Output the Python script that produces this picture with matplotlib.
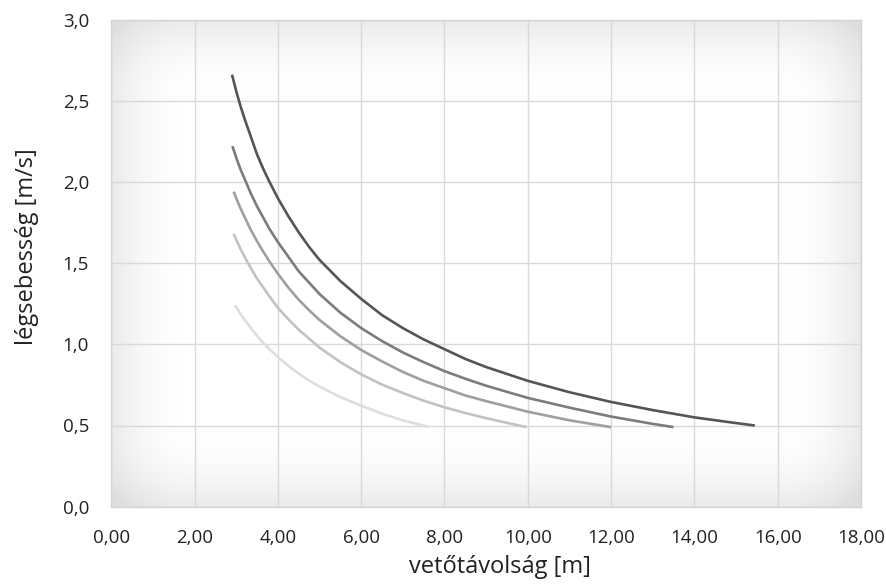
import numpy as np
import matplotlib
matplotlib.use("Agg")
import matplotlib.pyplot as plt
from matplotlib.ticker import FuncFormatter

plt.rcParams['font.family'] = ['Open Sans', 'DejaVu Sans']

# ---- data ----
x1 = [2.90, 3.00, 3.10, 3.20, 3.35, 3.50, 3.65, 3.80, 4.00, 4.25, 4.50, 4.75, 5.00, 5.50, 6.00, 6.50, 7.00, 7.50, 8.00, 8.50, 9.00, 10.0, 11.0, 12.0, 13.0, 14.0, 15.0, 15.45]
y1 = [2.66, 2.56, 2.47, 2.39, 2.28, 2.17, 2.08, 2.00, 1.90, 1.79, 1.69, 1.60, 1.52, 1.39, 1.28, 1.18, 1.10, 1.03, 0.97, 0.91, 0.86, 0.775, 0.705, 0.645, 0.595, 0.55, 0.515, 0.50]

x2 = [2.91, 3.00, 3.10, 3.20, 3.35, 3.50, 3.65, 3.80, 4.00, 4.25, 4.50, 4.75, 5.00, 5.50, 6.00, 6.50, 7.00, 7.50, 8.00, 8.50, 9.00, 10.0, 11.0, 12.0, 13.0, 13.5]
y2 = [2.22, 2.15, 2.08, 2.02, 1.93, 1.85, 1.78, 1.71, 1.63, 1.54, 1.45, 1.38, 1.31, 1.195, 1.10, 1.02, 0.95, 0.89, 0.835, 0.788, 0.745, 0.67, 0.61, 0.555, 0.51, 0.49]

x3 = [2.94, 3.00, 3.10, 3.20, 3.35, 3.50, 3.65, 3.80, 4.00, 4.25, 4.50, 4.75, 5.00, 5.50, 6.00, 6.50, 7.00, 7.50, 8.00, 8.50, 9.00, 10.0, 11.0, 12.0]
y3 = [1.94, 1.90, 1.84, 1.785, 1.705, 1.635, 1.57, 1.51, 1.435, 1.35, 1.275, 1.21, 1.15, 1.05, 0.965, 0.895, 0.83, 0.775, 0.73, 0.685, 0.65, 0.585, 0.532, 0.49]

x4 = [2.94, 3.00, 3.10, 3.20, 3.35, 3.50, 3.65, 3.80, 4.00, 4.25, 4.50, 4.75, 5.00, 5.50, 6.00, 6.50, 7.00, 7.50, 8.00, 8.50, 9.00, 9.97]
y4 = [1.68, 1.645, 1.59, 1.54, 1.47, 1.405, 1.35, 1.295, 1.225, 1.155, 1.09, 1.035, 0.98, 0.89, 0.815, 0.752, 0.70, 0.653, 0.612, 0.577, 0.545, 0.49]

x5 = [2.97, 3.00, 3.10, 3.20, 3.35, 3.50, 3.65, 3.80, 4.00, 4.25, 4.50, 4.75, 5.00, 5.50, 6.00, 6.50, 7.00, 7.60]
y5 = [1.24, 1.228, 1.19, 1.152, 1.10, 1.053, 1.01, 0.97, 0.922, 0.868, 0.82, 0.777, 0.740, 0.675, 0.622, 0.573, 0.532, 0.493]

series = [(x1, y1), (x2, y2), (x3, y3), (x4, y4), (x5, y5)]
colors = ['#555555', '#7c7c7c', '#9f9f9f', '#c2c2c2', '#dedede']

x_ticks = [0, 2, 4, 6, 8, 10, 12, 14, 16, 18]
y_ticks = [0.0, 0.5, 1.0, 1.5, 2.0, 2.5, 3.0]
x_label = 'vetőtávolság [m]'
y_label = 'légsebesség [m/s]'

# ---- figure ----
W, H = 887, 584
fig = plt.figure(figsize=(W / 100, H / 100), dpi=100)
L, R, B, T = 111.2, 861.0, 506.7, 19.5
ax = fig.add_axes([L / W, 1 - B / H, (R - L) / W, (B - T) / H])

# background gradient (grey edges, white centre)
pw, ph = int(R - L), int(B - T)
xx = np.arange(pw)[None, :]
yy = np.arange(ph)[:, None]
dx = np.minimum(xx, pw - 1 - xx) / 75.0
dy = np.minimum(yy, ph - 1 - yy) / 75.0
gx = np.clip(1 - dx, 0, 1)
gy = np.clip(1 - dy, 0, 1)
g = np.clip(np.sqrt(gx ** 2 + gy ** 2), 0, 1.3)
val = 1 - 0.08 * g ** 1.8
img = np.dstack([val, val, np.clip(val + 0.004, 0, 1)])
ax.imshow(img, extent=[0, 1, 0, 1], transform=ax.transAxes, aspect='auto',
          zorder=0, interpolation='bilinear')

for (xs, ys), c in zip(series, colors):
    ax.plot(xs, ys, color=c, lw=1.9, zorder=3, solid_capstyle='butt',
            solid_joinstyle='round')

ax.set_xlim(0, 18)
ax.set_ylim(0, 3.0)
ax.set_xticks(x_ticks)
ax.set_yticks(y_ticks)
ax.xaxis.set_major_formatter(FuncFormatter(lambda v, p: f"{v:.2f}".replace('.', ',')))
ax.yaxis.set_major_formatter(FuncFormatter(lambda v, p: f"{v:.1f}".replace('.', ',')))
ax.set_axisbelow(True)
ax.grid(True, color='#d9d9d9', lw=1.0, zorder=1)
for s in ax.spines.values():
    s.set_color('#d4d4d4')
    s.set_linewidth(1.0)
ax.tick_params(length=0, labelsize=13.5, colors='#222222')
ax.tick_params(axis='x', pad=16)
ax.tick_params(axis='y', pad=16)

ax.set_xlabel(x_label, fontsize=17, color='#222222', labelpad=6)
ax.set_ylabel(y_label, fontsize=17, color='#222222', labelpad=17)
ax.xaxis.label.set_x(0.518)
ax.yaxis.label.set_y(0.533)

fig.savefig('out.png', dpi=100)
